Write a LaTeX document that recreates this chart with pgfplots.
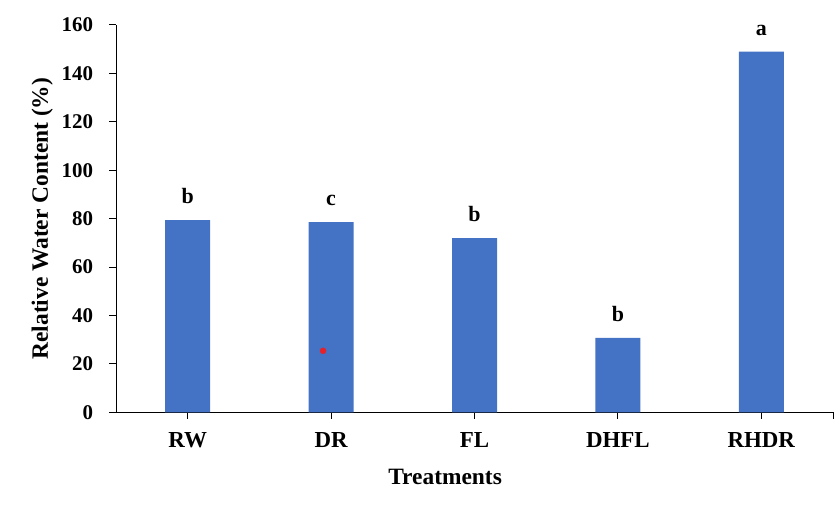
\documentclass[border=0pt]{standalone}
\usepackage{fontspec}
\setmainfont{Liberation Serif}
\usepackage{pgfplots}
\pgfplotsset{compat=1.18}
\definecolor{barblue}{HTML}{4472C4}
\definecolor{dotred}{HTML}{E62129}
\begin{document}
\begin{tikzpicture}
\begin{axis}[
  at={(116bp,92.7bp)}, anchor=south west,
  scale only axis, width=717bp, height=387.3bp,
  xmin=-0.5, xmax=4.5, ymin=0, ymax=160,
  axis lines*=left,
  axis line style={line width=1bp, black},
  every tick/.style={line width=1bp, black},
  tick align=outside,
  major tick length=6.5bp,
  xtick={0,1,2,3,4,4.5},
  xticklabels={RW,DR,FL,DHFL,RHDR,{}},
  ytick={0,20,...,160},
  /pgf/number format/assume math mode=true,
  xticklabel style={font=\fontsize{23}{27}\selectfont\bfseries, yshift=-10bp},
  yticklabel style={font=\fontsize{21}{25}\selectfont\bfseries, xshift=-13bp},
  xlabel={Treatments},
  ylabel={Relative Water Content (\%)},
  xlabel style={font=\fontsize{23.5}{28}\selectfont\bfseries,
    at={(axis description cs:0.459,-0.186)}, anchor=base},
  ylabel style={font=\fontsize{23.5}{28}\selectfont\bfseries,
    at={(axis description cs:-0.103,0.5)}, anchor=center, rotate=0},
  clip=false,
]
% mean RWC per treatment, with the significance letter of each group
\addplot[ybar, bar width=45bp, fill=barblue, draw=none,
  nodes near coords, point meta=explicit symbolic,
  every node near coord/.append style={anchor=base, yshift=16.5bp, inner sep=0pt,
    font=\fontsize{22}{26}\selectfont\bfseries, black}]
  table[x=x, y=y, meta=grp] {
x y grp
0 79.4 b
1 78.6 c
2 72.0 b
3 30.7 b
4 149.0 a
};
\addplot[only marks, mark=*, mark size=3bp, color=dotred,
  mark options={draw=dotred, fill=dotred}]
  coordinates {(0.944,25.4)};
\end{axis}
\pgfresetboundingbox
\path (0,0) rectangle (838bp,505bp);
\end{tikzpicture}
\end{document}
